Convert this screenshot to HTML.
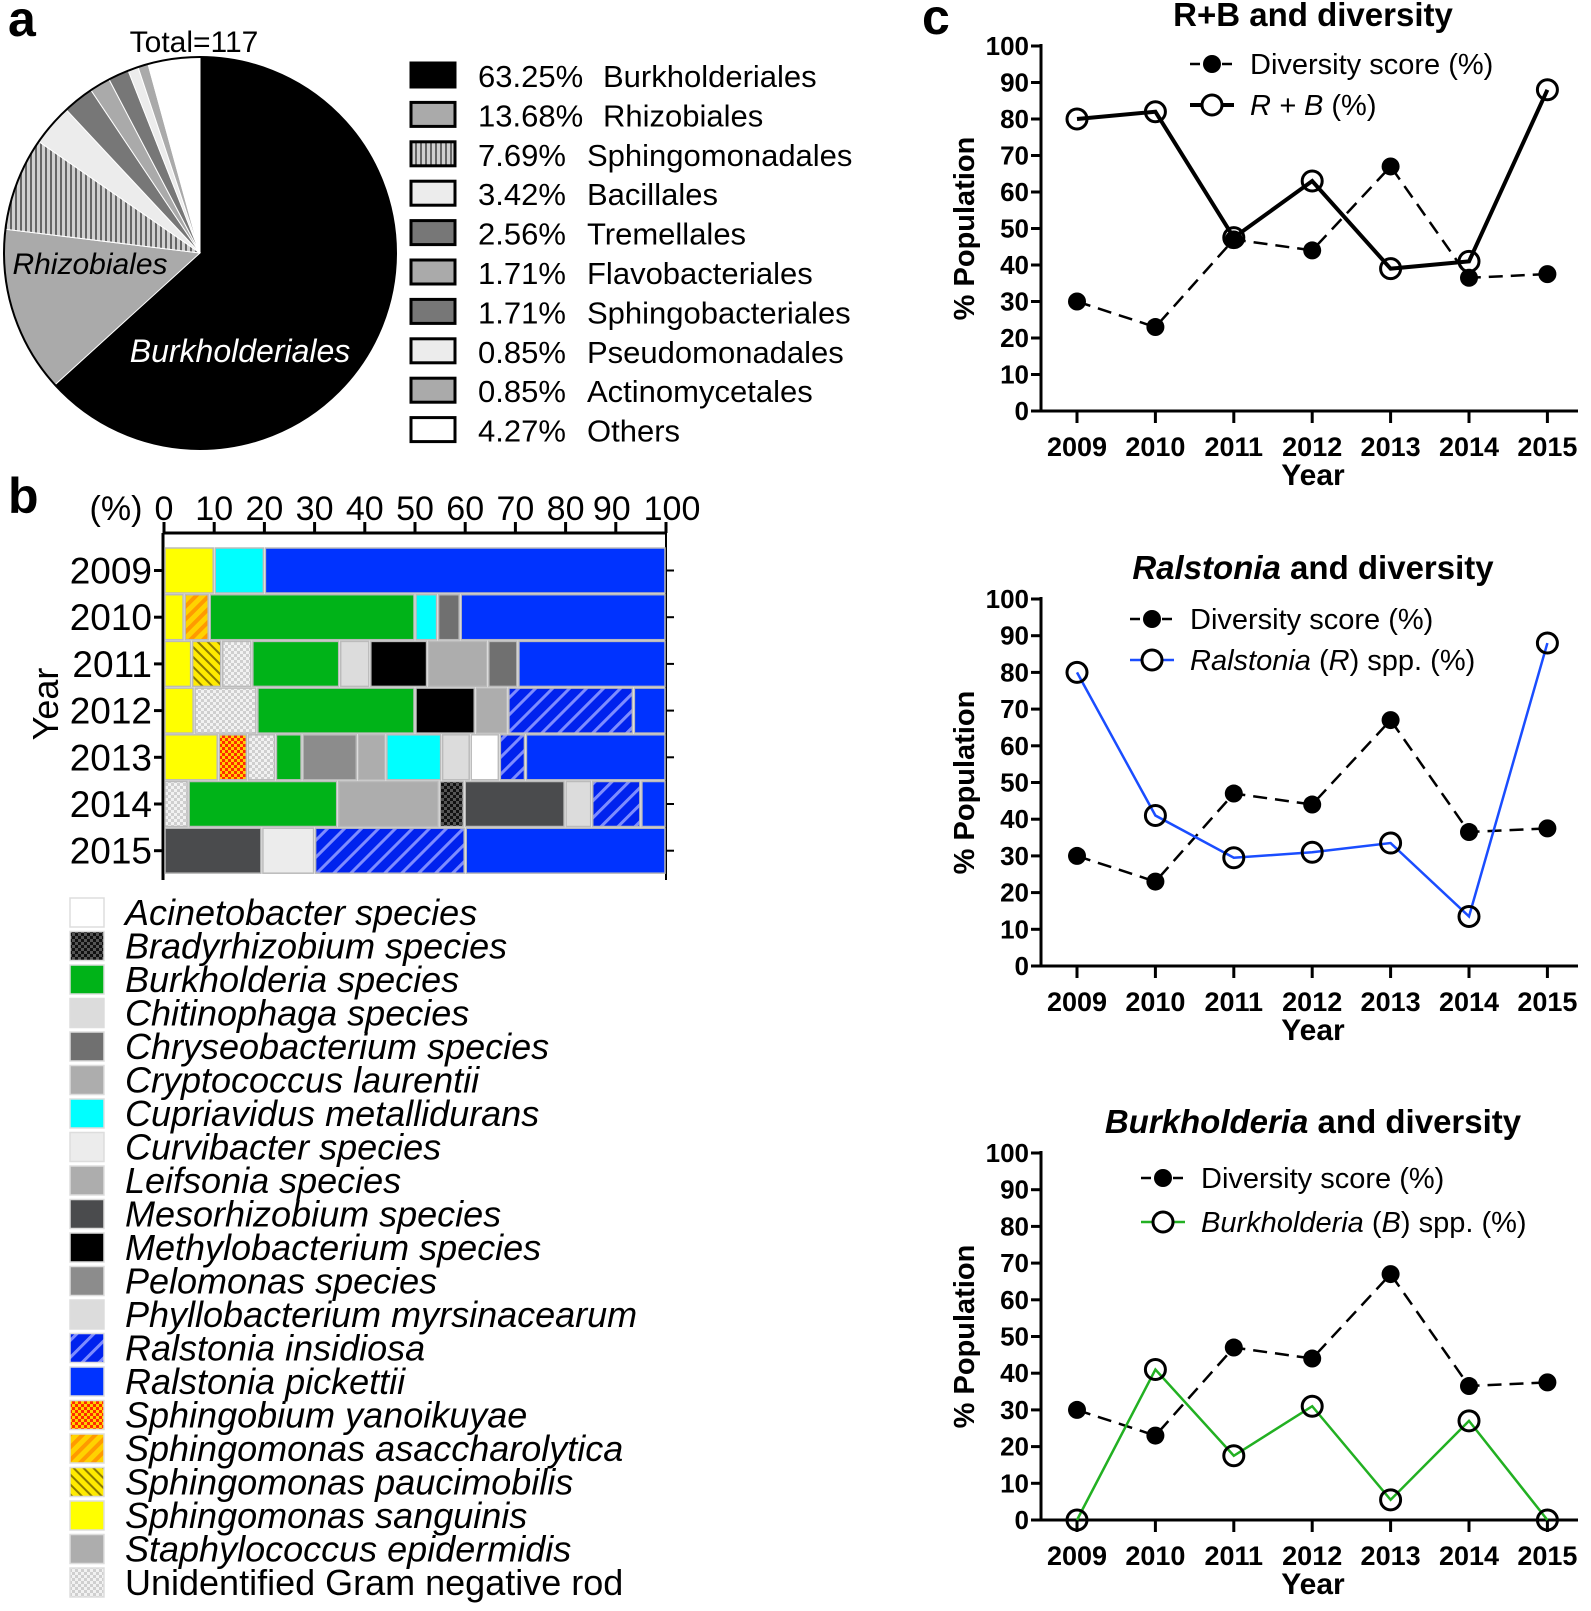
<!DOCTYPE html>
<html><head><meta charset="utf-8"><style>
html,body{margin:0;padding:0;background:#fff}
svg{display:block;font-family:"Liberation Sans",Arial,sans-serif}
</style></head><body>
<svg id="fig" width="1591" height="1611" viewBox="0 0 1591 1611" xmlns="http://www.w3.org/2000/svg">
<defs>
<pattern id="pVert" width="5" height="10" patternUnits="userSpaceOnUse"><rect width="5" height="10" fill="#d0d0d0"/><rect width="2" height="10" fill="#666"/></pattern>
<pattern id="pChk" width="6" height="6" patternUnits="userSpaceOnUse"><rect width="6" height="6" fill="#f2f2f2"/><rect width="3" height="3" fill="#cfcfcf"/><rect x="3" y="3" width="3" height="3" fill="#cfcfcf"/></pattern>
<pattern id="pDark" width="6" height="6" patternUnits="userSpaceOnUse"><rect width="6" height="6" fill="#555"/><rect width="3" height="3" fill="#111"/><rect x="3" y="3" width="3" height="3" fill="#111"/></pattern>
<pattern id="pOrChk" width="6" height="6" patternUnits="userSpaceOnUse"><rect width="6" height="6" fill="#ff2a00"/><rect width="3" height="3" fill="#ffd000"/><rect x="3" y="3" width="3" height="3" fill="#ffd000"/></pattern>
<pattern id="pOrHatch" width="9" height="9" patternUnits="userSpaceOnUse" patternTransform="rotate(45)"><rect width="9" height="9" fill="#ffd200"/><rect width="4" height="9" fill="#ff9a00"/></pattern>
<pattern id="pYHatch" width="7" height="7" patternUnits="userSpaceOnUse" patternTransform="rotate(-45)"><rect width="7" height="7" fill="#ffea00"/><rect width="2" height="7" fill="#8a7a00"/></pattern>
<pattern id="pBHatch" width="12" height="12" patternUnits="userSpaceOnUse" patternTransform="rotate(45)"><rect width="12" height="12" fill="#0022ee"/><rect width="3" height="12" fill="#7e8cff"/></pattern>
</defs>

<text x="8" y="36" font-size="50" font-weight="bold">a</text>
<text x="8" y="513" font-size="50" font-weight="bold">b</text>
<text x="922" y="34" font-size="50" font-weight="bold">c</text>

<g id="pie"></g>
<text x="194" y="52" font-size="30" text-anchor="middle">Total=117</text>
<text x="90" y="274" font-size="30" font-style="italic" text-anchor="middle">Rhizobiales</text>
<text x="240" y="362" font-size="32" font-style="italic" fill="#fff" text-anchor="middle">Burkholderiales</text>
<g id="pieLegend"></g>

<g id="bars"></g>
<g id="barLegend"></g>

<g id="lc1"></g>
<g id="lc2"></g>
<g id="lc3"></g>
</svg>
<script>
const NS='http://www.w3.org/2000/svg';
function mk(parent,tag,attrs,txt){const e=document.createElementNS(NS,tag);for(const k in attrs)e.setAttribute(k,attrs[k]);if(txt!==undefined)e.textContent=txt;parent.appendChild(e);return e;}

// ---------- Panel a data ----------
const pieLabels=['Burkholderiales','Rhizobiales','Sphingomonadales','Bacillales','Tremellales','Flavobacteriales','Sphingobacteriales','Pseudomonadales','Actinomycetales','Others'];
const pieValues=[63.25,13.68,7.69,3.42,2.56,1.71,1.71,0.85,0.85,4.27];
const pieFills=['#000','#aaa','url(#pVert)','#ececec','#777','#aaa','#777','#ececec','#aaa','#fff'];

// ---------- Panel b data ----------
const years=['2009','2010','2011','2012','2013','2014','2015'];
const barSpecies=[
 ['sang','cupri','pick'],
 ['sang','asacch','burk','cupri','chryseo','pick'],
 ['sang','pauci','unid','burk','chitino','methylo','crypto','chryseo','pick'],
 ['sang','unid','burk','methylo','staph','insid','pick'],
 ['sang','sphingobium','unid','burk','pelo','leif','cupri','phyllo','acin','insid','pick'],
 ['unid','burk','crypto','brady','meso','chitino','insid','pick'],
 ['meso','curvi','insid','pick']];
const barValues=[
 [10,10,80],
 [4,5,41,4.5,4.5,41],
 [5.5,6,6,17.5,6,11.5,12,6,29.5],
 [6,12.5,31.5,12,6.5,25,6.5],
 [10.8,5.8,5.6,5.3,11,5.7,11.1,5.7,5.8,5.2,28],
 [4.8,29.8,20.2,5,20.1,5.3,9.8,5],
 [19.5,10.5,30,40]];
const xTicks=[0,10,20,30,40,50,60,70,80,90,100];
const speciesKeys=['acin','brady','burk','chitino','chryseo','crypto','cupri','curvi','leif','meso','methylo','pelo','phyllo','insid','pick','sphingobium','asacch','pauci','sang','staph','unid'];
const speciesNames=['Acinetobacter species','Bradyrhizobium species','Burkholderia species','Chitinophaga species','Chryseobacterium species','Cryptococcus laurentii','Cupriavidus metallidurans','Curvibacter species','Leifsonia species','Mesorhizobium species','Methylobacterium species','Pelomonas species','Phyllobacterium myrsinacearum','Ralstonia insidiosa','Ralstonia pickettii','Sphingobium yanoikuyae','Sphingomonas asaccharolytica','Sphingomonas paucimobilis','Sphingomonas sanguinis','Staphylococcus epidermidis','Unidentified Gram negative rod'];
const speciesFill={acin:'#fff',brady:'url(#pDark)',burk:'#00b318',chitino:'#dcdcdc',chryseo:'#707070',crypto:'#adadad',cupri:'#00ffff',curvi:'#ececec',leif:'#adadad',meso:'#4a4b4d',methylo:'#000',pelo:'#8c8c8c',phyllo:'#dcdcdc',insid:'url(#pBHatch)',pick:'#0033ff',sphingobium:'url(#pOrChk)',asacch:'url(#pOrHatch)',pauci:'url(#pYHatch)',sang:'#ffff00',staph:'#adadad',unid:'url(#pChk)'};

// ---------- Panel c data ----------
const lineYears=['2009','2010','2011','2012','2013','2014','2015'];
const yTicks=[0,10,20,30,40,50,60,70,80,90,100];
const diversity=[30,23,47,44,67,36.5,37.5];
const rPlusB=[80,82,47.5,63,39,41,88];
const ralstonia=[80,41,29.5,31,33.5,13.5,88];
const burkholderia=[0,41,17.5,31,5.5,27,0];

// ---------- draw pie ----------
(function(){
 const g=document.getElementById('pie');
 const cx=200,cy=253,r=196;
 const total=pieValues.reduce((a,b)=>a+b,0);
 let a0=0;
 pieValues.forEach((v,i)=>{
  const a1=a0+v/total*2*Math.PI;
  const x0=cx+r*Math.sin(a0),y0=cy-r*Math.cos(a0),x1=cx+r*Math.sin(a1),y1=cy-r*Math.cos(a1);
  const large=(a1-a0)>Math.PI?1:0;
  const p=mk(g,'path',{d:`M${cx},${cy}L${x0},${y0}A${r},${r} 0 ${large} 1 ${x1},${y1}Z`,fill:pieFills[i],stroke:'#fff','stroke-width':i===0?0:1});
  
  
  a0=a1;
 });
 const c=mk(g,'circle',{cx:cx,cy:cy,r:r,fill:'none',stroke:'#000','stroke-width':2});
 
 
 const lg=document.getElementById('pieLegend');
 pieLabels.forEach((l,i)=>{
  const y=63+i*39.4;
  const sw=mk(lg,'rect',{x:411,y:y,width:44,height:24,fill:pieFills[i],stroke:'#000','stroke-width':3});
  
  
  const pct=pieValues[i].toFixed(2)+'%';
  const t1=mk(lg,'text',{x:478,y:y+24,'font-size':31},pct);
  
  
  const t2=mk(lg,'text',{x:i<2?603:587,y:y+24,'font-size':31},l);
  
  
 });
})();

// ---------- draw bars ----------
(function(){
 const g=document.getElementById('bars');
 const x0=164,x1=666,top=548,pitch=46.7,bh=45;
 const xs=v=>x0+(x1-x0)*v/100;
 const ax=mk(g,'line',{x1:x0,y1:533,x2:x1,y2:533,stroke:'#000','stroke-width':3});
 
 const ly=mk(g,'line',{x1:x0-1,y1:533,x2:x0-1,y2:880,stroke:'#000','stroke-width':3});
 
 const ry=mk(g,'line',{x1:x1,y1:533,x2:x1,y2:880,stroke:'#000','stroke-width':2});
 
 xTicks.forEach(t=>{
  const tk=mk(g,'line',{x1:xs(t),y1:522,x2:xs(t),y2:533,stroke:'#000','stroke-width':3});
  
  const tl=mk(g,'text',{x:xs(t)+(t===90?-4:t===100?6:0),y:520,'font-size':34,'text-anchor':'middle'},String(t));
  
 });
 const pc=mk(g,'text',{x:116,y:520,'font-size':34,'text-anchor':'middle'},'(%)');
 
 const yt=mk(g,'text',{x:0,y:0,'font-size':36,'text-anchor':'middle',transform:'translate(58,704) rotate(-90)'},'Year');
 
 years.forEach((y,i)=>{
  const yc=top+i*pitch+bh/2;
  const lab=mk(g,'text',{x:152,y:yc+13,'font-size':37,'text-anchor':'end'},y);
  
  const tk=mk(g,'line',{x1:x0-10,y1:yc,x2:x0,y2:yc,stroke:'#000','stroke-width':3});
  
  const tk2=mk(g,'line',{x1:x1,y1:yc,x2:x1+8,y2:yc,stroke:'#000','stroke-width':2});
  
  let acc=0;
  barValues[i].forEach((v,j)=>{
   const r=mk(g,'rect',{x:xs(acc)+1,y:top+i*pitch,width:Math.max(0,xs(acc+v)-xs(acc)-2),height:bh,fill:speciesFill[barSpecies[i][j]],stroke:'#bbb','stroke-width':1.5});
   
   
   acc+=v;
  });
 });
 const lg=document.getElementById('barLegend');
 speciesKeys.forEach((k,i)=>{
  const y=898+i*33.5;
  const sw=mk(lg,'rect',{x:70,y:y,width:34,height:29,fill:speciesFill[k],stroke:'#ddd','stroke-width':1.5});
  
  const t=mk(lg,'text',{x:125,y:y+27,'font-size':36,'font-style':i===20?'normal':'italic'},speciesNames[i]);
  
 });
})();

// ---------- line charts ----------
function lineChart(id,y0,y100,title,titleItalic,series2,color,legY,legX,leg2Parts){
 const g=document.getElementById(id);
 const ax=1041,xStart=1077,xStep=78.4,axEnd=1578;
 const xs=i=>xStart+i*xStep, ys=v=>y0+(y100-y0)*v/100;
 const tt=mk(g,'text',{x:1313,y:y100-20,'font-size':33,'font-weight':'bold','text-anchor':'middle'});
 
 if(titleItalic){mk(tt,'tspan',{'font-style':'italic'},titleItalic);mk(tt,'tspan',{},' and diversity');}
 else tt.textContent=title;
 const yl=mk(g,'line',{x1:ax,y1:y100-2,x2:ax,y2:y0,stroke:'#000','stroke-width':3});
 
 const xl=mk(g,'line',{x1:ax-10,y1:y0,x2:axEnd,y2:y0,stroke:'#000','stroke-width':3});
 
 yTicks.forEach(t=>{
  const tk=mk(g,'line',{x1:ax-10,y1:ys(t),x2:ax,y2:ys(t),stroke:'#000','stroke-width':3});
  
  const tl=mk(g,'text',{x:ax-12,y:ys(t)+9,'font-size':26,'font-weight':'bold','text-anchor':'end'},String(t));
  
 });
 lineYears.forEach((yr,i)=>{
  const tk=mk(g,'line',{x1:xs(i),y1:y0,x2:xs(i),y2:y0+12,stroke:'#000','stroke-width':3});
  
  const tl=mk(g,'text',{x:xs(i),y:y0+45,'font-size':27,'font-weight':'bold','text-anchor':'middle'},yr);
  
 });
 const xt=mk(g,'text',{x:1313,y:y0+74,'font-size':30,'font-weight':'bold','text-anchor':'middle'},'Year');
 
 const yt=mk(g,'text',{x:0,y:0,'font-size':29,'font-weight':'bold','text-anchor':'middle',transform:`translate(974,${(y0+y100)/2}) rotate(-90)`},'% Population');
 
 const dp=mk(g,'polyline',{points:diversity.map((v,i)=>xs(i)+','+ys(v)).join(' '),fill:'none',stroke:'#000','stroke-width':2.5,'stroke-dasharray':'14,8'});
 
 const sp=mk(g,'polyline',{points:series2.map((v,i)=>xs(i)+','+ys(v)).join(' '),fill:'none',stroke:color,'stroke-width':color==='#000'?4:2.5});
 
 diversity.forEach((v,i)=>{
  const c=mk(g,'circle',{cx:xs(i),cy:ys(v),r:9,fill:'#000'});
  
 });
 series2.forEach((v,i)=>{
  const c=mk(g,'circle',{cx:xs(i),cy:ys(v),r:10,fill:'none',stroke:'#000','stroke-width':3});
  
 });
 const l1=mk(g,'line',{x1:legX-22,y1:legY,x2:legX+22,y2:legY,stroke:'#000','stroke-width':2.5,'stroke-dasharray':'10,6'});
 
 const c1=mk(g,'circle',{cx:legX,cy:legY,r:9,fill:'#000'});
 
 const t1=mk(g,'text',{x:legX+38,y:legY+10,'font-size':29},'Diversity score (%)');
 
 const l2y=legY+(id==='lc3'?44:41);
 const l2=mk(g,'line',{x1:legX-22,y1:l2y,x2:legX+22,y2:l2y,stroke:color,'stroke-width':color==='#000'?4:2.5});
 
 const c2=mk(g,'circle',{cx:legX,cy:l2y,r:10,fill:'#fff',stroke:'#000','stroke-width':3});
 
 const t2=mk(g,'text',{x:legX+38,y:l2y+10,'font-size':29});
 
 leg2Parts.forEach(p=>mk(t2,'tspan',p[1]?{'font-style':'italic'}:{},p[0]));
}
lineChart('lc1',411,46,'R+B and diversity',null,rPlusB,'#000',64,1212,[['R + B',1],[' (%)',0]]);
lineChart('lc2',966,599,null,'Ralstonia',ralstonia,'#1a4dff',619,1152,[['Ralstonia',1],[' (',0],['R',1],[') spp. (%)',0]]);
lineChart('lc3',1520,1153,null,'Burkholderia',burkholderia,'#22b022',1178,1163,[['Burkholderia',1],[' (',0],['B',1],[') spp. (%)',0]]);
</script>
</body></html>
